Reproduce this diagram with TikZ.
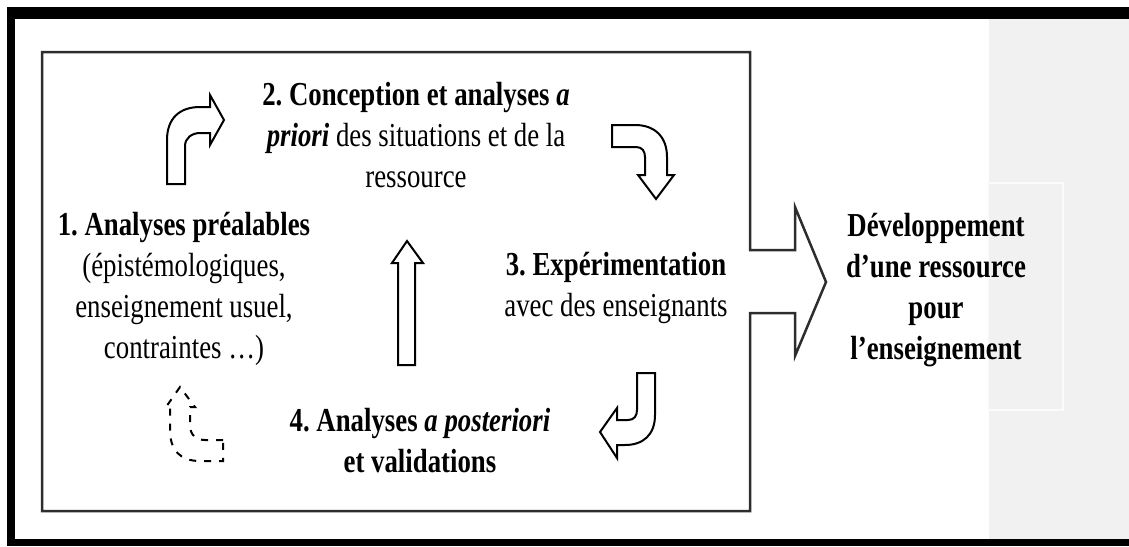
\documentclass[tikz,border=0pt]{standalone}
\usepackage{fontspec}
\setmainfont{Liberation Serif}[FakeStretch=0.8]
\usetikzlibrary{calc}
\definecolor{panel_grey}{RGB}{241,241,241}
\definecolor{box_line}{RGB}{45,45,45}
\tikzstyle{txt}=[align=center,inner sep=0pt,font=\fontsize{33.5}{41}\selectfont]
\tikzstyle{hollow}=[draw=black,line width=2pt,fill=white,line join=miter]
\tikzstyle{hollowdash}=[hollow,dash pattern=on 7pt off 8pt]
\frenchspacing

\begin{document}
\begin{tikzpicture}[x=1pt,y=-1pt]
    \useasboundingbox (0,0) rectangle (1129,546);
    % frame and grey panel
    \fill[panel_grey] (989,19) rectangle (1129,539);
    \draw[white!70!panel_grey,line width=1.5pt] (988,183) rectangle (1063,410);
    \fill[black] (7,7) rectangle (1129,19);
    \fill[black] (7,7) rectangle (15,546);
    \fill[black] (7,539) rectangle (1129,546);
    % box with the big arrow
    \draw[box_line,line width=2.5pt,line join=miter] (750,313) -- (750,511) -- (42,511) -- (42,52)
        -- (750,52) -- (750,250) -- (795,250) -- (795,207) -- (826,282) -- (795,356)
        -- (795,313) -- cycle;
    % bent arrows
    \draw[hollow] (167,184) -- (167,140) .. controls (167,118) and (180,107) .. (200,107)
        -- (210,107) -- (210,95) -- (224,120) -- (210,145) -- (210,133) -- (200,133)
        .. controls (192,133) and (185,138) .. (185,146) -- (185,184) -- cycle;
    \draw[hollow] (612,125) -- (635,125) .. controls (655,125) and (667,137) .. (667,157)
        -- (667,175) -- (674,175) -- (656,199) -- (638,175) -- (645,175) -- (645,157)
        .. controls (645,151) and (642,147) .. (636,147) -- (612,147) -- cycle;
    \draw[hollow] (637,373) -- (655,373) -- (655,415) .. controls (655,435) and (643,445) .. (625,445)
        -- (617,445) -- (617,458) -- (600,432) -- (617,408) -- (617,420) -- (628,420)
        .. controls (634,420) and (637,416) .. (637,410) -- cycle;
    \draw[hollow] (398,365) -- (398,263) -- (392,263) -- (407,241) -- (423,263) -- (415,263)
        -- (415,365) -- cycle;
    \draw[hollowdash] (223,440) -- (205,440) .. controls (196,440) and (190,435) .. (190,425)
        -- (190,407) -- (195,407) -- (180,387) -- (166,407) -- (170,407) -- (170,430)
        .. controls (170,450) and (180,461) .. (200,461) -- (223,461) -- cycle;
    % texts
    \node [style=txt] (1) at (184,289) {\textbf{1. Analyses préalables}\\(épistémologiques,\\enseignement usuel,\\contraintes …)};
    \node [style=txt] (2) at (416,135) {\textbf{2. Conception et analyses \textit{a}}\\\textbf{\textit{priori}} des situations et de la\\ressource};
    \node [style=txt] (3) at (616,288) {\textbf{3. Expérimentation}\\avec des enseignants};
    \node [style=txt] (4) at (420,441) {\textbf{4. Analyses \textit{a posteriori}}\\\textbf{et validations}};
    \node [style=txt,font=\fontsize{33.5}{41}\selectfont\bfseries] (res) at (936,290) {Développement\\d’une ressource\\pour\\l’enseignement};
\end{tikzpicture}
\end{document}
